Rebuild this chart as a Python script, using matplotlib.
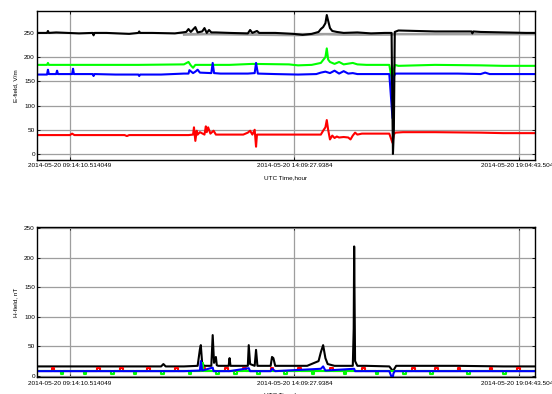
import matplotlib
matplotlib.use("Agg")
import matplotlib.pyplot as plt

plt.rcParams["font.family"] = ["Liberation Sans", "DejaVu Sans"]

# x in hours after 2014-05-20 09:14:10.514049
TICK_HOURS = [0.0, 4.9215, 9.8427]
TICK_LABELS = [
    "2014-05-20 09:14:10.514049",
    "2014-05-20 14:09:27.9384",
    "2014-05-20 19:04:43.5046",
]
XLIM = (-0.72, 10.19)

# ---- E-field, V/m ----
t_e_gray = [2.5, 3.0, 4.0, 5.0, 5.6, 6.0, 7.0, 7.13, 8.0, 9.0, 10.19]
e_gray = [246, 247, 246, 245, 247, 246, 246, 247, 247, 247, 247]

t_e_black = [-0.72, -0.5, -0.48, -0.46, -0.3, 0.2, 0.5, 0.52, 0.54, 0.8, 1.3,
             1.5, 1.52, 1.54, 1.8, 2.3, 2.55, 2.6, 2.65, 2.75, 2.8,
             2.9, 2.95, 3.0, 3.05, 3.1, 3.2, 3.5, 3.9, 3.95, 4.0, 4.1, 4.15,
             4.5, 4.9, 5.1, 5.3, 5.45, 5.5, 5.55, 5.6, 5.63, 5.66, 5.7, 5.75,
             5.85, 6.0, 6.3, 6.6, 6.9, 7.05, 7.06, 7.08, 7.10, 7.12, 7.2, 7.6,
             8.0, 8.5, 8.8, 8.82, 8.84, 9.0, 9.5, 10.0, 10.19]
e_black = [250, 250, 254, 250, 251, 249, 250, 245, 250, 250, 248,
           250, 253, 250, 250, 249, 252, 258, 252, 262, 251,
           253, 260, 250, 256, 251, 251, 250, 249, 256, 250, 254, 250,
           250, 248, 246, 248, 252, 258, 262, 270, 287, 275, 260, 254,
           252, 250, 251, 249, 250, 250, 150, 0, 50, 252, 255, 254,
           253, 253, 253, 249, 253, 252, 251, 250, 250]

t_e_green = [-0.72, -0.5, -0.48, -0.46, 0.5, 1.5, 2.5, 2.6, 2.65, 2.7, 2.75,
             3.5, 4.0, 4.8, 5.0, 5.3, 5.5, 5.6, 5.63, 5.66, 5.7, 5.8, 5.9, 6.0,
             6.2, 6.3, 6.5, 7.0, 7.06, 7.09, 7.12, 7.2, 8.0, 9.0, 9.5, 10.19]
e_green = [184, 184, 188, 184, 184, 184, 185, 190, 183, 178, 184,
           184, 186, 185, 183, 184, 188, 200, 218, 195, 190, 186, 190, 185,
           188, 185, 184, 184, 150, 170, 184, 182, 184, 183, 182, 182]

t_e_blue = [-0.72, -0.5, -0.48, -0.46, -0.3, -0.28, -0.26, 0.05, 0.07, 0.09,
            0.5, 0.52, 0.54, 1.0, 1.5, 1.52, 1.54, 2.0, 2.5, 2.6, 2.62, 2.7,
            2.75, 2.8, 2.85, 3.1, 3.13, 3.16, 3.3, 3.9, 4.05, 4.08, 4.12, 4.5,
            5.0, 5.4, 5.5, 5.6, 5.7, 5.8, 5.9, 6.0, 6.1, 6.2, 6.3, 6.5, 7.0,
            7.07, 7.10, 7.13, 7.3, 8.5, 9.0, 9.1, 9.2, 10.19]
e_blue = [164, 164, 174, 165, 165, 172, 165, 165, 176, 165,
          165, 161, 165, 164, 164, 161, 164, 164, 166, 166, 173, 167,
          170, 174, 168, 167, 188, 167, 166, 166, 167, 188, 166, 165,
          164, 165, 168, 170, 167, 172, 166, 171, 166, 167, 165, 165, 165,
          74, 160, 166, 166, 166, 165, 168, 165, 165]

t_e_red = [-0.72, 0.0, 0.05, 0.1, 1.2, 1.25, 1.3, 2.6, 2.7, 2.72, 2.75, 2.78,
           2.8, 2.85, 2.95, 2.98, 3.0, 3.03, 3.08, 3.15, 3.2, 3.3, 3.8, 3.9,
           3.95, 4.0, 4.05, 4.08, 4.1, 4.15, 5.3, 5.5, 5.55, 5.6, 5.63, 5.66,
           5.7, 5.75, 5.8, 5.85, 5.9, 6.0, 6.1, 6.15, 6.2, 6.25, 6.3, 6.4,
           7.0, 7.07, 7.10, 7.13, 7.3, 8.0, 9.0, 9.5, 10.19]
e_red = [39, 39, 42, 39, 39, 37, 39, 39, 40, 55, 27, 48,
         40, 45, 40, 57, 45, 55, 42, 48, 40, 40, 40, 44,
         48, 40, 50, 15, 40, 40, 40, 40, 48, 55, 70, 50,
         30, 38, 33, 36, 34, 35, 34, 30, 38, 44, 40, 42,
         42, 23, 40, 44, 45, 45, 44, 43, 43]

# ---- H-field, nT ----
t_h_black = [-0.72, 0.5, 1.5, 2.0, 2.05, 2.1, 2.5, 2.8, 2.85, 2.87, 2.9, 2.95,
             3.1, 3.13, 3.16, 3.2, 3.22, 3.25, 3.48, 3.5, 3.52, 3.9, 3.92,
             3.95, 4.05, 4.08, 4.11, 4.4, 4.43, 4.46, 4.5, 5.2, 5.45, 5.5,
             5.55, 5.6, 5.65, 5.8, 6.2, 6.22, 6.23, 6.24, 6.25, 6.3, 6.5, 7.0,
             7.08, 7.15, 7.5, 8.5, 9.5, 10.19]
h_black = [16, 16, 16, 16, 20, 16, 16, 17, 45, 52, 20, 17,
           17, 69, 22, 32, 18, 17, 17, 30, 17, 17, 52,
           20, 17, 44, 17, 17, 32, 30, 17, 17, 25, 40,
           52, 30, 20, 17, 17, 80, 219, 120, 25, 17, 17, 16,
           8, 17, 17, 17, 16, 16]

t_h_red = [-0.72, -0.4, -0.35, 0.6, 0.66, 1.1, 1.16, 1.7, 1.76, 2.3, 2.36,
           2.9, 2.96, 3.4, 3.46, 3.8, 3.86, 4.4, 4.46, 5.0, 5.06, 5.7, 5.76,
           6.4, 6.46, 7.5, 7.56, 8.0, 8.06, 8.5, 8.56, 9.2, 9.26, 9.8, 9.86,
           10.19]
h_red = [9, 13, 9, 13, 9, 13, 9, 13, 9, 13, 9,
         14, 9, 13, 9, 13, 9, 13, 9, 13, 9, 13, 9,
         13, 9, 13, 9, 13, 9, 13, 9, 13, 9, 13, 9,
         9]

t_h_green = [-0.72, -0.2, -0.14, 0.3, 0.36, 0.9, 0.96, 1.4, 1.46, 2.0, 2.06,
             2.6, 2.66, 2.87, 2.92, 3.2, 3.26, 3.6, 3.66, 4.1, 4.16, 4.7, 4.76,
             5.3, 5.36, 6.0, 6.06, 6.7, 6.76, 7.3, 7.36, 7.9, 7.96, 8.7, 8.76,
             9.5, 9.56, 10.19]
h_green = [8, 3, 8, 3, 8, 3, 8, 3, 8, 3, 8,
           3, 8, 22, 8, 3, 8, 3, 8, 3, 8, 3, 8,
           3, 8, 3, 8, 3, 8, 3, 8, 3, 8, 3, 8,
           3, 8, 8]

t_h_blue = [-0.72, 1.0, 2.5, 2.85, 2.87, 2.9, 3.13, 3.15, 3.5, 3.92, 3.95,
            4.4, 4.43, 4.5, 5.5, 5.55, 5.6, 6.23, 6.25, 7.0, 7.07, 7.09, 7.12,
            8.0, 9.0, 10.19]
h_blue = [8, 8, 8, 9, 25, 9, 14, 8, 8, 13, 8,
          8, 12, 8, 12, 16, 9, 12, 8, 8, -6, 4, 8,
          8, 8, 8]


def style_axes(ax, ylim, ylabel):
    ax.set_xlim(*XLIM)
    ax.set_ylim(*ylim)
    ax.set_yticks([0, 50, 100, 150, 200, 250])
    ax.set_xticks(TICK_HOURS)
    ax.set_xticklabels(TICK_LABELS)
    ax.tick_params(direction="in", length=2.5, width=0.6, top=True, right=True,
                   labelsize=4.6, pad=1.5)
    ax.tick_params(axis="x", pad=2.5)
    ax.grid(True, color="0.62", linewidth=0.9)
    ax.set_axisbelow(True)
    for sp in ax.spines.values():
        sp.set_linewidth(1.0)
    ax.set_ylabel(ylabel, fontsize=4.6, labelpad=4)
    ax.set_xlabel("UTC Time,hour", fontsize=4.6, labelpad=5)


fig = plt.figure(figsize=(5.52, 3.94), dpi=100)
ax1 = fig.add_axes([0.067, 0.594, 0.902, 0.379])
ax2 = fig.add_axes([0.067, 0.043, 0.902, 0.381])

lw = 1.5
ax1.plot(t_e_gray, e_gray, color="#a0a0a0", linewidth=lw)
ax1.plot(t_e_red, e_red, color="#ff0000", linewidth=lw)
ax1.plot(t_e_green, e_green, color="#00ff00", linewidth=lw)
ax1.plot(t_e_blue, e_blue, color="#0000ff", linewidth=lw)
ax1.plot(t_e_black, e_black, color="black", linewidth=lw)
style_axes(ax1, (-12.4, 296), "E-field, V/m")

ax2.plot(t_h_black, h_black, color="black", linewidth=lw)
ax2.plot(t_h_red, h_red, color="#ff0000", linewidth=lw, drawstyle="steps-post")
ax2.plot(t_h_green, h_green, color="#00ff00", linewidth=lw, drawstyle="steps-post")
ax2.plot(t_h_blue, h_blue, color="#0000ff", linewidth=lw)
style_axes(ax2, (-2, 252), "H-field, nT")

fig.savefig("out.png", dpi=100)
